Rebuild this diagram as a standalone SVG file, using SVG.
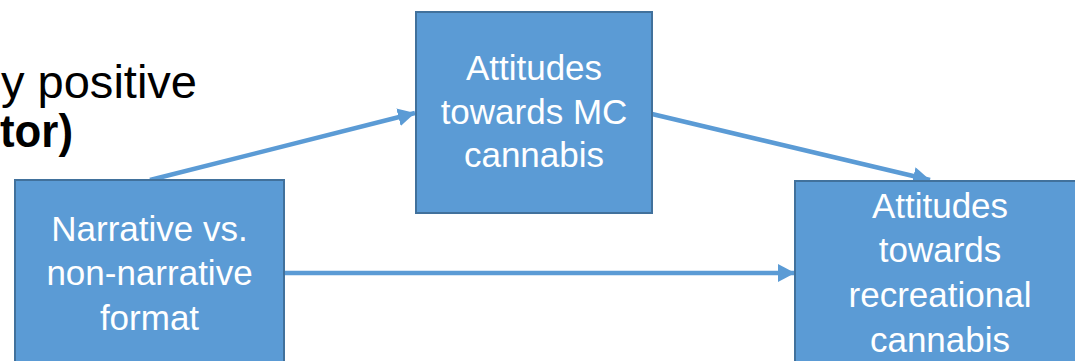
<svg xmlns="http://www.w3.org/2000/svg" width="1075" height="361" viewBox="0 0 1075 361">
<defs>
<style>
.box{fill:#5B9BD5;stroke:#41719C;stroke-width:2}
.lbl{font-family:"Liberation Sans",Arial,sans-serif;font-size:35px;fill:#FFFFFF;text-anchor:middle}
.title{font-family:"Liberation Sans",Arial,sans-serif;font-size:46px;fill:#000000}
.conn{stroke:#5B9BD5;stroke-width:4.5;fill:none;marker-end:url(#ah)}
</style>
<marker id="ah" markerUnits="userSpaceOnUse" markerWidth="18" markerHeight="20" refX="17" refY="9" orient="auto">
<path d="M0,0 L17,9 L0,18 Z" fill="#5B9BD5"/>
</marker>
</defs>
<rect width="1075" height="361" fill="#FFFFFF"/>
<text class="title" x="1" y="98" textLength="196" lengthAdjust="spacingAndGlyphs">y positive</text>
<text class="title" x="0" y="147" font-weight="bold" textLength="73" lengthAdjust="spacingAndGlyphs">tor)</text>
<g id="connectors">
<line class="conn" x1="150" y1="180" x2="415" y2="113"/>
<line class="conn" x1="652" y1="114" x2="930" y2="180"/>
<line class="conn" x1="285" y1="273" x2="795" y2="273"/>
</g>
<g id="node-format">
<rect class="box" x="15" y="180" width="269" height="200"/>
<text class="lbl" x="149.5" y="241">Narrative vs.</text>
<text class="lbl" x="149.5" y="285">non-narrative</text>
<text class="lbl" x="149.5" y="330">format</text>
</g>
<g id="node-mc">
<rect class="box" x="416" y="12" width="236" height="201"/>
<text class="lbl" x="534" y="80">Attitudes</text>
<text class="lbl" x="534" y="124">towards MC</text>
<text class="lbl" x="534" y="167">cannabis</text>
</g>
<g id="node-rec">
<rect class="box" x="795" y="181" width="290" height="200"/>
<text class="lbl" x="940" y="218">Attitudes</text>
<text class="lbl" x="940" y="262">towards</text>
<text class="lbl" x="940" y="307">recreational</text>
<text class="lbl" x="940" y="352">cannabis</text>
</g>
</svg>
